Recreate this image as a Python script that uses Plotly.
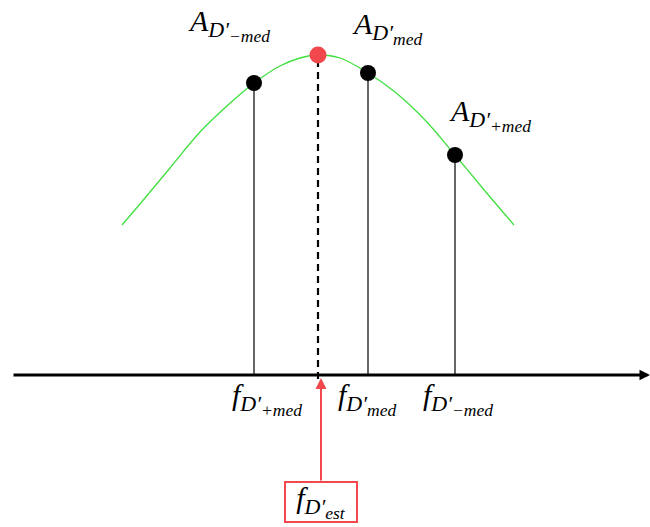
import plotly.graph_objects as go

# Spectral peak samples (frequency position, amplitude above the axis)
curve_f = [122, 145, 170, 200, 228, 254, 280, 300, 318, 340, 368, 395, 425, 455, 485, 514]
curve_a = [150, 177, 207, 243, 270, 292, 309, 317, 320, 317, 302, 283, 255, 220, 184, 150]

# Measured bins: -med, med, +med
bin_f = [254, 368, 455]
bin_a = [292, 302, 220]

# Estimated peak
est_f = 318
est_a = 320

amp_subs = ["−med", "med", "+med"]
amp_label_pos = [(186, 350), (350, 347), (447, 260)]
freq_subs = ["+med", "med", "−med"]
freq_label_pos = [(230, -24), (336, -24), (421, -24)]
est_sub = "est"

W, H = 650, 527
AXIS_Y = 375  # pixel row of the frequency axis


def math_label(base, sub):
    """Italic base symbol with a D′ subscript carrying a second-level subscript."""
    return ("<i>" + base + "<sub><span style='font-size:22px'>D′</span>"
            "<sub><span style='font-size:17.5px'>" + sub + "</span></sub></sub></i>")


fig = go.Figure()

# Gaussian-like peak
fig.add_trace(go.Scatter(x=curve_f, y=curve_a, mode="lines", line=dict(color="#3ee03e", width=1.3, shape="spline"),
                         hoverinfo="skip"))

# Stems for measured bins
for f, a in zip(bin_f, bin_a):
    fig.add_trace(go.Scatter(x=[f, f], y=[0, a], mode="lines", line=dict(color="black", width=1.2), hoverinfo="skip"))

# Dashed line at the estimate
fig.add_trace(go.Scatter(x=[est_f, est_f], y=[-4, est_a], mode="lines",
                         line=dict(color="black", width=2.2, dash="7px,5px"), hoverinfo="skip"))

fig.add_trace(go.Scatter(x=bin_f, y=bin_a, mode="markers", marker=dict(color="black", size=16), hoverinfo="skip"))
fig.add_trace(go.Scatter(x=[est_f], y=[est_a], mode="markers", marker=dict(color="#f0484c", size=17), hoverinfo="skip"))

font = dict(family="Liberation Serif", size=30, color="black")
annotations = []

# Frequency axis with arrow
annotations.append(dict(x=650, y=0, ax=12, ay=0, xref="x", yref="y", axref="x", ayref="y", text="",
                        showarrow=True, arrowhead=2, arrowsize=0.7, arrowwidth=3, arrowcolor="black"))

# Red arrow from estimate box to axis
annotations.append(dict(x=est_f + 3, y=-3, ax=est_f + 3, ay=-107, xref="x", yref="y", axref="x", ayref="y", text="",
                        showarrow=True, arrowhead=2, arrowsize=1.1, arrowwidth=2, arrowcolor="#f0484c"))

for s, (x, y) in zip(amp_subs, amp_label_pos):
    annotations.append(dict(x=x, y=y, text=math_label("A", s), xanchor="left", yanchor="middle",
                            showarrow=False, font=font))
for s, (x, y) in zip(freq_subs, freq_label_pos):
    annotations.append(dict(x=x, y=y, text=math_label("f", s), xanchor="left", yanchor="middle",
                            showarrow=False, font=font))

annotations.append(dict(x=est_f + 3, y=-127, text=math_label("f", est_sub), xanchor="center", yanchor="middle",
                        width=68, height=36, borderpad=1,
                        showarrow=False, font=font, bordercolor="#f0484c", borderwidth=2,
                        bgcolor="white"))

fig.update_layout(
    width=W, height=H,
    margin=dict(l=0, r=0, t=0, b=0),
    paper_bgcolor="white", plot_bgcolor="white",
    showlegend=False,
    xaxis=dict(range=[0, W], visible=False, fixedrange=True),
    yaxis=dict(range=[AXIS_Y - H, AXIS_Y], visible=False, fixedrange=True),
    annotations=annotations,
)

fig.write_html("out.html")
